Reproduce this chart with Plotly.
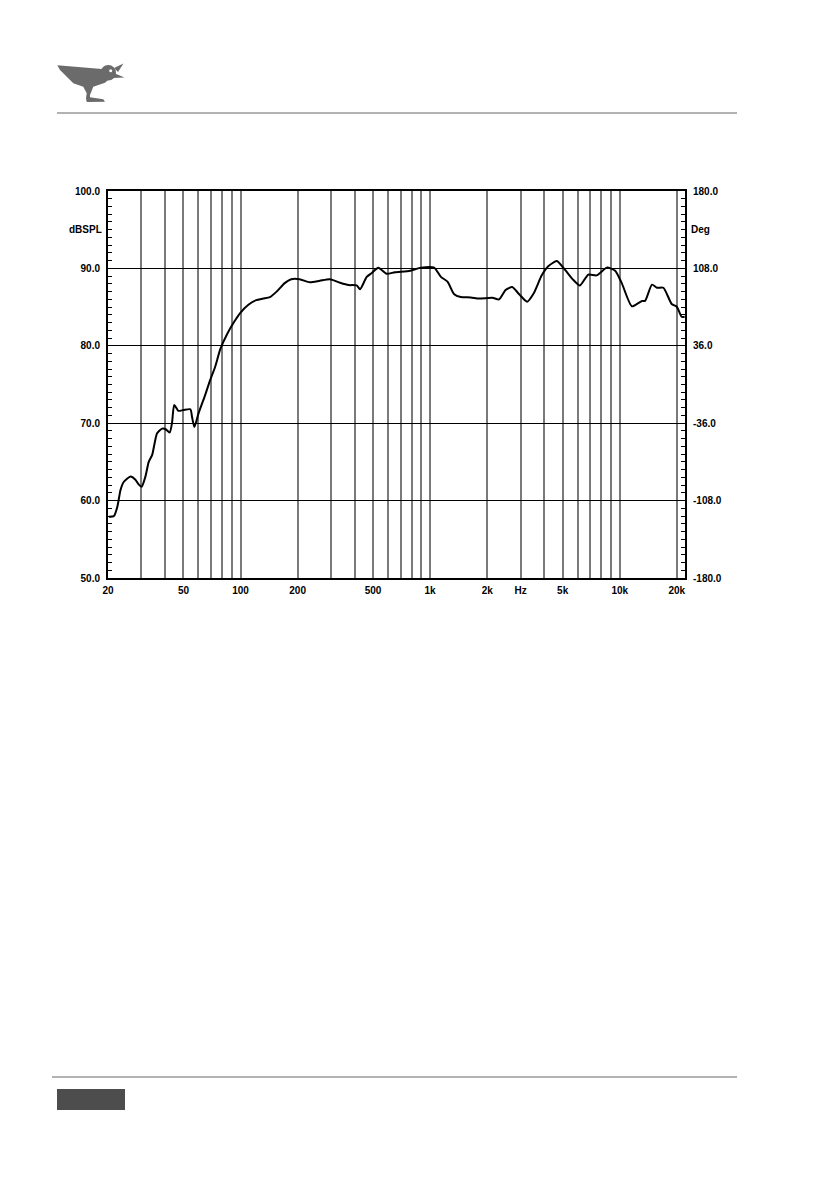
import plotly.graph_objects as go

# ---- data ----
freq_hz = [20.2, 21.5, 22.4, 23.3, 24.2, 26.3, 27.9, 29.0, 30.1, 31.5, 32.8, 34.2, 36.3, 38.6, 40.1,
           42.3, 43.5, 44.7, 47.0, 50.0, 54.4, 55.5, 57.1, 60.1, 65.0, 69.0, 73.5, 78.3, 84.9, 92.6,
           99.3, 110, 121, 131.6, 143, 155, 171, 185, 205, 232, 262, 296, 335, 371, 410, 427, 463,
           492, 533, 589, 652, 786, 894, 1050, 1140, 1235, 1340, 1450, 1640, 1810, 2130, 2310,
           2500, 2710, 2940, 3250, 3520, 3880, 4210, 4660, 5150, 5700, 6170, 6830, 7560, 8550,
           9460, 10250, 11600, 13100, 13600, 14800, 15700, 17000, 18800, 20000, 21200, 22000]
spl_db = [57.9, 58.0, 59.2, 61.4, 62.4, 63.1, 62.7, 62.1, 61.8, 63.1, 65.0, 65.9, 68.7, 69.3, 69.25,
          68.8, 70.0, 72.35, 71.6, 71.7, 71.8, 70.8, 69.5, 71.3, 73.6, 75.5, 77.3, 79.6, 81.5, 83.1,
          84.2, 85.3, 85.9, 86.1, 86.3, 87.0, 88.1, 88.6, 88.6, 88.2, 88.4, 88.6, 88.15, 87.85, 87.8, 87.3, 88.9,
          89.4, 90.1, 89.3, 89.5, 89.7, 90.1, 90.1, 88.9, 88.3, 86.65, 86.3, 86.25, 86.1, 86.2, 86.0,
          87.2, 87.6, 86.7, 85.7, 86.8, 89.1, 90.3, 90.95, 89.8, 88.5, 87.8, 89.2, 89.1, 90.1,
          89.7, 88.1, 85.1, 85.8, 85.8, 87.9, 87.5, 87.5, 85.4, 85.05, 83.75, 83.75]

x_grid = [20, 30, 40, 50, 60, 70, 80, 90, 100, 200, 300, 400, 500, 600, 700, 800, 900,
          1000, 2000, 3000, 4000, 5000, 6000, 7000, 8000, 9000, 10000, 20000]
x_text = ["20", "", "", "50", "", "", "", "", "100", "200", "", "", "500", "", "", "", "",
          "1k", "2k", "Hz", "", "5k", "", "", "", "", "10k", "20k"]
y_ticks = [50, 60, 70, 80, 90, 100]
y_text = ["50.0", "60.0", "70.0", "80.0", "90.0", "100.0"]
deg_ticks = [-180, -108, -36, 36, 108, 180]
deg_text = ["-180.0", "-108.0", "-36.0", "36.0", "108.0", "180.0"]

OFF = 8  # page body margin of the html page
W, H = 839 - OFF, 1191 - OFF
L, R, T, B = 108 - OFF, 685 - OFF, 191 - OFF, 578 - OFF

def px(x):
    return (x - OFF - L) / (R - L)

def py(y):
    return (B - (y - OFF)) / (B - T)

font = dict(family="Liberation Sans, Arial, sans-serif", size=10, color="black", weight="bold")

fig = go.Figure()
fig.add_trace(go.Scatter(x=freq_hz, y=spl_db, mode="lines",
                         line=dict(color="black", width=2, shape="spline", smoothing=0.6),
                         showlegend=False, hoverinfo="skip"))
fig.add_trace(go.Scatter(x=[1000], y=[0], yaxis="y2", mode="markers", marker=dict(opacity=0),
                         showlegend=False, hoverinfo="skip"))

shapes = []
gray = "#6b6b6b"
# header / footer rules
shapes.append(dict(type="line", xref="paper", yref="paper", x0=px(57), x1=px(737), y0=py(113), y1=py(113),
                   line=dict(color="#666666", width=1)))
shapes.append(dict(type="line", xref="paper", yref="paper", x0=px(52), x1=px(737), y0=py(1077), y1=py(1077),
                   line=dict(color="#666666", width=1)))
shapes.append(dict(type="rect", xref="paper", yref="paper", x0=px(57), x1=px(125), y0=py(1089), y1=py(1110),
                   fillcolor="#4d4d4d", line=dict(width=0)))
# bird logo
body = [(57.3, 65.3), (105, 69.3), (111.7, 76.7), (105, 82.7), (93.3, 86.7), (90, 95), (90, 97.3),
        (103.3, 99.3), (105, 101.7), (86.7, 102), (86, 98.3), (86.7, 93.3), (83.3, 86.7), (73.3, 83.3), (60, 70)]
path = "M " + " L ".join(f"{px(a):.5f},{py(b):.5f}" for a, b in body) + " Z"
shapes.append(dict(type="path", xref="paper", yref="paper", path=path, fillcolor=gray, line=dict(width=0)))
shapes.append(dict(type="circle", xref="paper", yref="paper", x0=px(100.5), x1=px(116), y0=py(65), y1=py(80.5),
                   fillcolor=gray, line=dict(width=0)))
beak_u = [(114, 68), (123.5, 63.5), (118, 72)]
beak_l = [(115, 73.5), (124.5, 77.5), (113, 78)]
for bk in (beak_u, beak_l):
    p = "M " + " L ".join(f"{px(a):.5f},{py(b):.5f}" for a, b in bk) + " Z"
    shapes.append(dict(type="path", xref="paper", yref="paper", path=p, fillcolor=gray, line=dict(width=0)))
shapes.append(dict(type="circle", xref="paper", yref="paper", x0=px(109.2), x1=px(112.2), y0=py(69.2), y1=py(72.2),
                   fillcolor="white", line=dict(width=0)))

annotations = [
    dict(text="dBSPL", x=0, xref="paper", xanchor="right", xshift=-4, y=95, yref="y", showarrow=False, font=font),
    dict(text="Deg", x=1, xref="paper", xanchor="left", xshift=4, y=144, yref="y2", showarrow=False, font=font),
]

fig.update_layout(
    width=W, height=H,
    margin=dict(l=L, r=W - R, t=T, b=H - B, pad=0),
    paper_bgcolor="white", plot_bgcolor="white",
    shapes=shapes, annotations=annotations,
    xaxis=dict(type="log", range=[1.30103, 4.3443], tickvals=x_grid, ticktext=x_text,
               showgrid=True, gridcolor="#7a7a7a", gridwidth=2, zeroline=False,
               showline=True, linecolor="black", linewidth=2, mirror=True,
               ticks="", tickfont=font, ticklabelstandoff=2),
    yaxis=dict(range=[50, 100], tickvals=y_ticks, ticktext=y_text, showgrid=True, gridcolor="black", gridwidth=1,
               zeroline=False, showline=True, linecolor="black", linewidth=2, mirror=True,
               ticks="inside", ticklen=6, tickcolor="black", tickfont=font, ticklabelstandoff=4,
               minor=dict(ticks="inside", dtick=1, ticklen=4, tickcolor="black", showgrid=False)),
    yaxis2=dict(range=[-180, 180], overlaying="y", side="right", tickvals=deg_ticks, ticktext=deg_text,
                showgrid=False, zeroline=False, showline=True, linecolor="black", linewidth=2,
                ticks="inside", ticklen=6, tickcolor="black", tickfont=font, ticklabelstandoff=4,
                minor=dict(ticks="inside", dtick=7.2, tick0=0, ticklen=4, tickcolor="black", showgrid=False)),
)

fig.write_html("out.html")
